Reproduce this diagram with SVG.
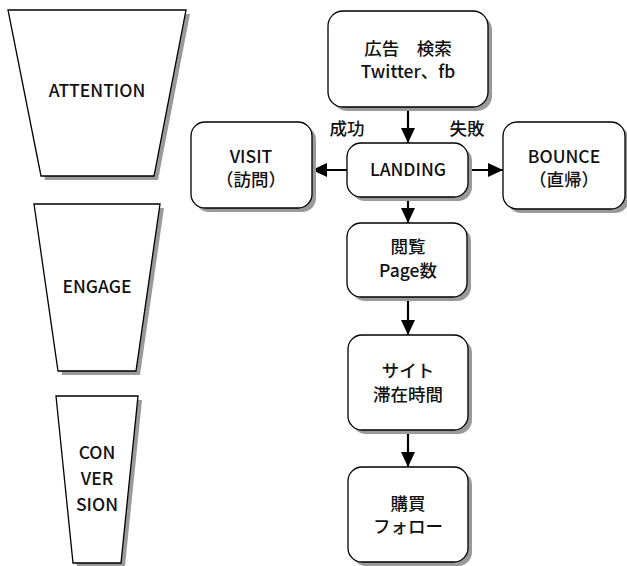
<svg xmlns="http://www.w3.org/2000/svg" width="627" height="566" viewBox="0 0 627 566">
  <defs>
    <marker id="arrow" markerWidth="15" markerHeight="14" refX="15" refY="7" orient="auto" markerUnits="userSpaceOnUse" viewBox="0 0 15 14">
      <path d="M0,0 L15,7 L0,14 Z" fill="#000"/>
    </marker>
  </defs>
  <style>
    .shape { fill: #fff; stroke: #000; stroke-width: 1.3; }
    .shadow { fill: #9a9a9a; stroke: none; }
    .lbl { font-family: "Noto Sans CJK JP", "Noto Sans", sans-serif; font-size: 17.5px; font-weight: 500; fill: #111; text-anchor: middle; }
    .conn { stroke: #000; stroke-width: 2.2; fill: none; }
  </style>
  <rect width="627" height="566" fill="#fff"/>

  <!-- funnel stages -->
  <g id="stage-attention">
    <polygon class="shadow" points="12,14 190,14 158,180 45,180"/>
    <polygon class="shape" points="8,10 186,10 154,176 41,176"/>
    <text class="lbl" x="97" y="97">ATTENTION</text>
  </g>
  <g id="stage-engage">
    <polygon class="shadow" points="38,208 164,208 140,375 62,375"/>
    <polygon class="shape" points="34,204 160,204 136,371 58,371"/>
    <text class="lbl" x="97" y="293">ENGAGE</text>
  </g>
  <g id="stage-conversion">
    <polygon class="shadow" points="60,400 142,400 125,566 77,566"/>
    <polygon class="shape" points="56,396 138,396 121,563 73,563"/>
    <text class="lbl" x="97" y="459">CON</text>
    <text class="lbl" x="97" y="485">VER</text>
    <text class="lbl" x="97" y="511">SION</text>
  </g>

  <!-- flow connectors -->
  <g id="connectors">
    <line class="conn" x1="408" y1="107" x2="408" y2="143" marker-end="url(#arrow)"/>
    <line class="conn" x1="347" y1="170" x2="312" y2="170" marker-end="url(#arrow)"/>
    <line class="conn" x1="468" y1="170" x2="503" y2="170" marker-end="url(#arrow)"/>
    <line class="conn" x1="408" y1="197" x2="408" y2="223" marker-end="url(#arrow)"/>
    <line class="conn" x1="408" y1="297" x2="408" y2="335" marker-end="url(#arrow)"/>
    <line class="conn" x1="408" y1="430" x2="408" y2="467" marker-end="url(#arrow)"/>
    <text class="lbl" x="347" y="135">成功</text>
    <text class="lbl" x="467" y="135">失敗</text>
  </g>

  <!-- flow nodes -->
  <g id="node-source">
    <rect class="shadow" x="332" y="15" width="160" height="96" rx="15"/>
    <rect class="shape" x="328" y="11" width="160" height="96" rx="15"/>
    <text class="lbl" x="408" y="55">広告　検索</text>
    <text class="lbl" x="408" y="78">Twitter、fb</text>
  </g>
  <g id="node-visit">
    <rect class="shadow" x="195" y="126" width="121" height="86" rx="14"/>
    <rect class="shape" x="191" y="122" width="121" height="86" rx="14"/>
    <text class="lbl" x="251" y="163">VISIT</text>
    <text class="lbl" x="251" y="186">（訪問）</text>
  </g>
  <g id="node-landing">
    <rect class="shadow" x="351" y="147" width="121" height="54" rx="14"/>
    <rect class="shape" x="347" y="143" width="121" height="54" rx="14"/>
    <text class="lbl" x="408" y="176">LANDING</text>
  </g>
  <g id="node-bounce">
    <rect class="shadow" x="507" y="126" width="122" height="87" rx="14"/>
    <rect class="shape" x="503" y="122" width="122" height="87" rx="14"/>
    <text class="lbl" x="564" y="163">BOUNCE</text>
    <text class="lbl" x="564" y="186">（直帰）</text>
  </g>
  <g id="node-pageview">
    <rect class="shadow" x="351" y="227" width="120" height="74" rx="14"/>
    <rect class="shape" x="347" y="223" width="120" height="74" rx="14"/>
    <text class="lbl" x="408" y="253">閲覧</text>
    <text class="lbl" x="408" y="277">Page数</text>
  </g>
  <g id="node-staytime">
    <rect class="shadow" x="352" y="339" width="120" height="95" rx="14"/>
    <rect class="shape" x="348" y="335" width="120" height="95" rx="14"/>
    <text class="lbl" x="408" y="377">サイト</text>
    <text class="lbl" x="408" y="401">滞在時間</text>
  </g>
  <g id="node-purchase">
    <rect class="shadow" x="352" y="471" width="120" height="95" rx="14"/>
    <rect class="shape" x="348" y="467" width="120" height="95" rx="14"/>
    <text class="lbl" x="408" y="510">購買</text>
    <text class="lbl" x="408" y="533">フォロー</text>
  </g>
</svg>
